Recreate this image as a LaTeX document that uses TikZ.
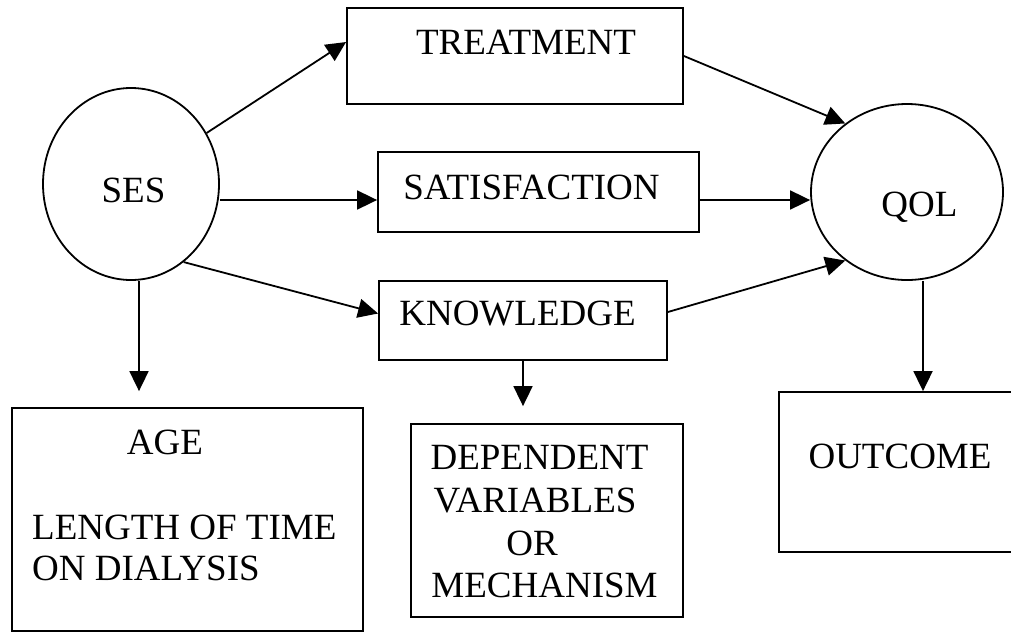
\documentclass[tikz,border=0pt]{standalone}
\usepackage{fontspec}
\setmainfont{Liberation Serif}
\usetikzlibrary{shapes.geometric,arrows.meta}
\begin{document}
\begin{tikzpicture}[x=1pt,y=-1pt,
  conn/.style={line width=1.8pt,-{Triangle[length=20pt,width=19pt]}},
  boxnode/.style={draw,line width=1.8pt,rectangle,inner sep=0pt},
  oval/.style={draw,line width=1.8pt,ellipse,inner sep=0pt},
  lbl/.style={font=\fontsize{37}{42}\selectfont,inner sep=0pt,anchor=base}]
\useasboundingbox (0,0) rectangle (1011,632);
\clip (0,0) rectangle (1011,632);
% shapes
\node[oval,minimum width=176pt,minimum height=192pt] (ses) at (131,184) {};
\node[oval,minimum width=192pt,minimum height=176pt] (qol) at (907,192) {};
\node[boxnode,minimum width=336pt,minimum height=96pt] (treat) at (515,56) {};
\node[boxnode,minimum width=321pt,minimum height=80pt] (sat) at (538.5,192) {};
\node[boxnode,minimum width=288pt,minimum height=79pt] (know) at (523,320.5) {};
\node[boxnode,minimum width=272pt,minimum height=193pt] (dep) at (547,520.5) {};
\node[boxnode,minimum width=351pt,minimum height=223pt] (agebox) at (187.5,519.5) {};
\node[boxnode,minimum width=261pt,minimum height=160pt] (outbox) at (909.5,472) {};
% texts
\node[lbl] (sesT) at (133.5,202) {SES};
\node[lbl] (qolT) at (919.5,216) {QOL};
\node[lbl] (treatT) at (526,54) {TREATMENT};
\node[lbl] (satT) at (531.5,199) {SATISFACTION};
\node[lbl] (knowT) at (517.5,325.5) {KNOWLEDGE};
\node[lbl] (ageT) at (165,454) {AGE};
\node[lbl,anchor=base west] (lenT) at (32,539) {LENGTH OF TIME};
\node[lbl,anchor=base west] (dialT) at (32,580) {ON DIALYSIS};
\node[lbl] (depT1) at (539.5,469) {DEPENDENT};
\node[lbl] (depT2) at (535,512) {VARIABLES};
\node[lbl] (depT3) at (532,555) {OR};
\node[lbl] (depT4) at (544.5,597) {MECHANISM};
\node[lbl] (outT) at (900,468) {OUTCOME};
% connectors
\draw[conn] (ses.34) -- ([yshift=14pt]treat.west);
\draw[conn] ([yshift=-16pt]ses.east) -- ([yshift=-8pt]sat.west);
\draw[conn] (ses.-56) -- ([yshift=7pt]know.west);
\draw[conn,shorten >=16pt] ([xshift=8pt]ses.south) -- ([xshift=-48.5pt]agebox.north);
\draw[conn,shorten >=17pt] (know.south) -- ([xshift=-24pt]dep.north);
\draw[conn] (treat.east) -- (qol.132);
\draw[conn] ([yshift=-8pt]sat.east) -- ([yshift=-8pt]qol.west);
\draw[conn] ([yshift=8.5pt]know.east) -- (qol.228);
\draw[conn] ([xshift=16pt]qol.south) -- ([xshift=13.5pt]outbox.north);
\end{tikzpicture}
\end{document}
